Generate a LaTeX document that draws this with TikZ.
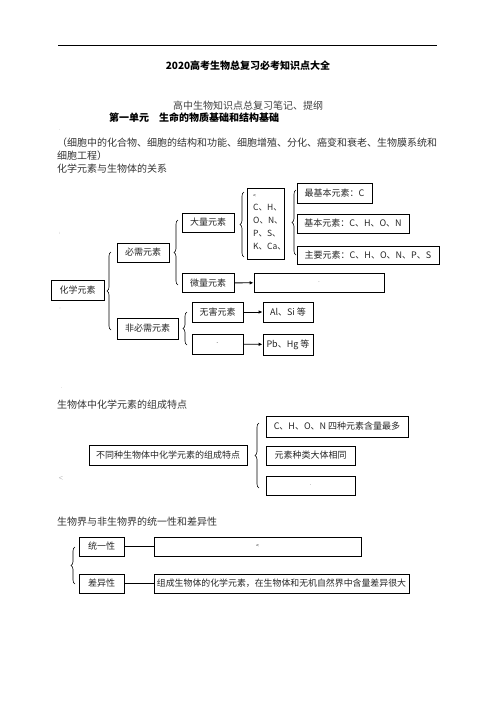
\documentclass[tikz,border=0pt]{standalone}
\usepackage{fontspec}
\newfontfamily\cjk{Noto Sans CJK SC}
\usetikzlibrary{arrows.meta,decorations.pathreplacing}
\begin{document}
\begin{tikzpicture}[x=1pt,y=-1pt,
  every node/.style={font=\cjk\fontsize{9}{11}\selectfont, inner sep=0pt, text=black!85},
  box/.style={draw=black, line width=0.8pt, minimum height=19pt},
  body/.style={font=\cjk\fontsize{10}{12}\selectfont, anchor=west, text=black!80},
  straymark/.style={font=\tiny, text=black!50},
  brc/.style={decorate, decoration={brace, amplitude=4pt}, line width=0.6pt},
  arr/.style={-{Latex[length=4pt,width=3.5pt]}, line width=0.8pt},
  conn/.style={line width=0.8pt}]
\useasboundingbox (0,0) rectangle (496,702);
% header
\coordinate (hl) at (58,45); \coordinate (hr) at (437,45);
\draw[line width=0.8pt] (hl) -- (hr);
\node[font=\cjk\bfseries\fontsize{10}{12}\selectfont, text=black] (title) at (248,66) {2020高考生物总复习必考知识点大全};
\node[font=\cjk\fontsize{10}{12}\selectfont, text=black!75] (sub) at (248,106) {高中生物知识点总复习笔记、提纲};
\node[font=\cjk\bfseries\fontsize{10}{12}\selectfont, text=black, anchor=west] (unit) at (109,118) {第一单元\quad 生命的物质基础和结构基础};
\node[straymark] (m1) at (60,130) {.};
\node[body] (p1) at (57,143) {（细胞中的化合物、细胞的结构和功能、细胞增殖、分化、癌变和衰老、生物膜系统和};
\node[body] (p2) at (57,156) {细胞工程）};
\node[body] (h1) at (57,169) {化学元素与生物体的关系};
\node[straymark] (m2) at (60,233) {:};
\node[straymark] (m3) at (60,310) {\textasciicaron};
% diagram 1
\node[box, minimum width=53pt, minimum height=20pt] (hx) at (77.5,290) {化学元素};
\node[box, minimum width=52pt] (bx) at (143,252.5) {必需元素};
\node[box, minimum width=61pt, minimum height=21pt] (fbx) at (147.5,328.5) {非必需元素};
\node[box, minimum width=52pt] (dl) at (208,222.5) {大量元素};
\node[box, minimum width=52pt] (wl) at (208,283) {微量元素};
\node[box, minimum width=37pt, minimum height=71pt] (ch) at (265.5,223.5) {};
\node[font=\cjk\fontsize{8.5}{13}\selectfont, align=left, anchor=north west] (chtxt) at (253,194) {{\tiny <}\\C、H、\\O、N、\\P、S、\\K、Ca、};
\node[box, minimum width=75pt, minimum height=20pt] (zjb) at (334.5,193) {最基本元素：C};
\node[box, minimum width=112pt] (jb) at (353,223.5) {基本元素：C、H、O、N};
\node[box, minimum width=142pt, minimum height=18pt] (zy) at (368,255) {主要元素：C、H、O、N、P、S};
\node[box, minimum width=130pt] (wlb) at (319,282.5) {\tiny .};
\node[box, minimum width=51pt, minimum height=20pt] (wh) at (217.5,312) {无害元素};
\node[box, minimum width=51pt, minimum height=20pt] (yh) at (217.5,344) {\tiny -};
\node[box, minimum width=50pt, minimum height=20pt] (alsi) at (288,312) {Al、Si 等};
\node[box, minimum width=50pt, minimum height=21pt] (pbhg) at (288,344.5) {Pb、Hg 等};
\draw[arr] (wl) -- (wlb);
\draw[arr] (wh) -- (alsi);
\draw[arr] (yh) -- (pbhg);
\draw[brc] (111,330) -- (111,252);
\draw[brc] (178,285) -- (178,220);
\draw[brc] (244,257) -- (244,192);
\draw[brc] (296,255) -- (296,190);
\draw[brc] (187,345) -- (187,312);
% section 2
\node[straymark] (m4) at (62,388) {.};
\node[body] (h2) at (57,405) {生物体中化学元素的组成特点};
\node[straymark] (m5) at (61,478) {<};
\node[box, minimum width=158pt, minimum height=20pt] (btz) at (168,455) {不同种生物体中化学元素的组成特点};
\node[box, minimum width=142pt, minimum height=21pt] (chon) at (337,426.5) {C、H、O、N 四种元素含量最多};
\node[box, minimum width=89pt] (ysz) at (310.5,455.5) {元素种类大体相同};
\node[box, minimum width=89pt] (emp2) at (310.5,485.5) {\tiny .};
\draw[brc] (259,488) -- (259,423);
% section 3
\node[body] (h3) at (57,522) {生物界与非生物界的统一性和差异性};
\node[box, minimum width=45pt] (tyx) at (101.5,546.5) {统一性};
\node[box, minimum width=45pt] (cyx) at (101.5,583.5) {差异性};
\node[box, minimum width=207pt] (tyb) at (257.5,546.5) {\tiny <};
\node[box, minimum width=255pt] (cyb) at (281.5,583.5) {\fontsize{8.9}{11}\selectfont 组成生物体的化学元素，在生物体和无机自然界中含量差异很大};
\draw[conn] (tyx) -- (tyb);
\draw[conn] (cyx) -- (cyb);
\draw[brc] (75,584) -- (75,547);
\end{tikzpicture}
\end{document}
